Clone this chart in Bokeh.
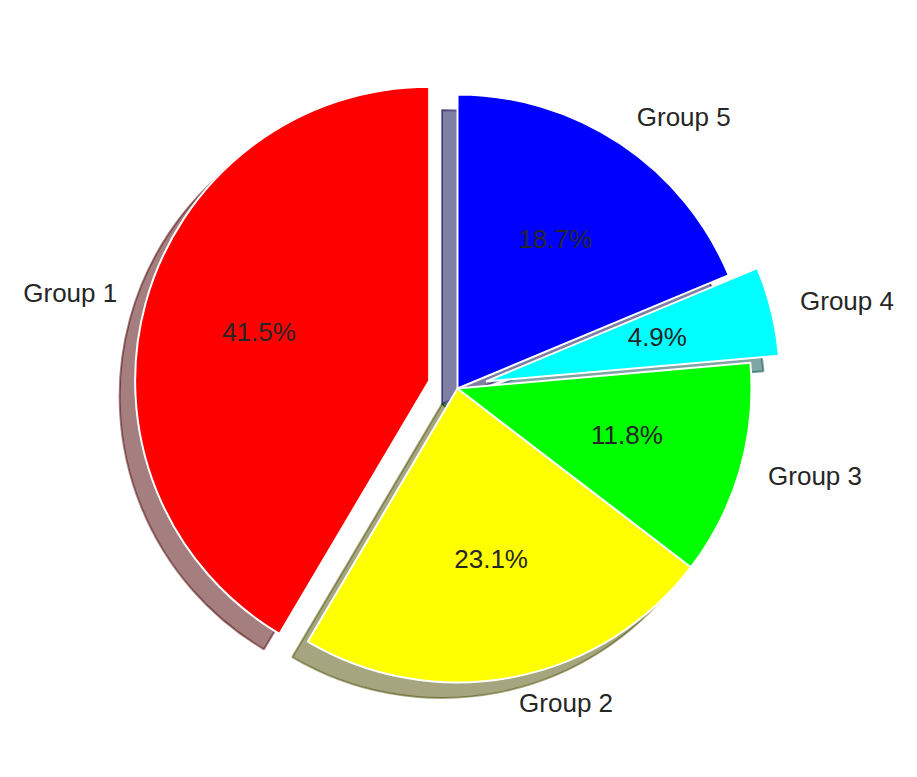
import numpy as np
from bokeh.plotting import figure
from bokeh.models import ColumnDataSource, Range1d
from bokeh.core.properties import value
from bokeh.embed import file_html
from bokeh.resources import INLINE

# ---- data ----
labels = ["Group 1", "Group 2", "Group 3", "Group 4", "Group 5"]
shares = [41.5, 23.1, 11.8, 4.9, 18.7]
colors = ["#ff0000", "#ffff00", "#00ff00", "#00ffff", "#0000ff"]
explode = [0.1, 0.0, 0.0, 0.1, 0.0]

# ---- layout / style ----
W, H = 901, 761
S = 294.0            # pixels per data unit (radius = 1)
CX, CY = 457.0, 388.0  # pie centre in canvas pixels (from top-left)
SHADOW = 15.5 / S
START = 90.0
LABEL_DIST = 1.1
PCT_DIST = 0.6
FONT = "Liberation Sans"
FSIZE = "26px"
TXT = "#262626"
TEXT_NUDGE = 2.5 / S   # matplotlib centres text slightly higher

vals = np.array(shares, dtype=float)
frac = vals / vals.sum()
ends = START + 360.0 * np.cumsum(frac)
starts = np.concatenate([[START], ends[:-1]])
mids = np.radians((starts + ends) / 2.0)
ex = np.array(explode)
cx = ex * np.cos(mids)
cy = ex * np.sin(mids)

def shade(c):
    r, g, b = int(c[1:3], 16), int(c[3:5], 16), int(c[5:7], 16)
    return "#%02x%02x%02x" % (int(r * 0.3), int(g * 0.3), int(b * 0.3))

src = ColumnDataSource(dict(
    x=cx, y=cy,
    sx=cx - SHADOW, sy=cy - SHADOW,
    start=np.radians(starts), end=np.radians(ends),
    color=colors, scolor=[shade(c) for c in colors],
))

p = figure(width=W, height=H, output_backend="svg", toolbar_location=None,
           x_range=Range1d(-CX / S, (W - CX) / S),
           y_range=Range1d(-(H - CY) / S, CY / S),
           min_border=0, min_border_left=0, min_border_right=0,
           min_border_top=0, min_border_bottom=0)
p.axis.visible = False
p.grid.visible = False
p.outline_line_color = None
p.background_fill_color = "white"
p.border_fill_color = "white"

# shadows (all beneath the wedges)
p.wedge(x="sx", y="sy", radius=1.0, start_angle="start", end_angle="end",
        fill_color="scolor", fill_alpha=0.5, line_color="scolor",
        line_alpha=0.5, line_width=2, source=src)
# wedges
p.wedge(x="x", y="y", radius=1.0, start_angle="start", end_angle="end",
        fill_color="color", line_color="white", line_width=2, source=src)

# labels
lx = cx + LABEL_DIST * np.cos(mids)
ly = cy + LABEL_DIST * np.sin(mids) + TEXT_NUDGE
align = ["left" if v > 0 else "right" for v in LABEL_DIST * np.cos(mids)]
lsrc = ColumnDataSource(dict(x=lx, y=ly, text=labels, align=align))
p.text(x="x", y="y", text="text", text_align="align", text_baseline="middle",
       text_font=value(FONT), text_font_size=FSIZE, text_color=TXT, source=lsrc)

# percentages
px = cx + PCT_DIST * np.cos(mids)
py = cy + PCT_DIST * np.sin(mids) + TEXT_NUDGE
ptxt = ["%.1f%%" % v for v in (frac * 100)]
psrc = ColumnDataSource(dict(x=px, y=py, text=ptxt))
p.text(x="x", y="y", text="text", text_align="center", text_baseline="middle",
       text_font=value(FONT), text_font_size=FSIZE, text_color=TXT, source=psrc)

open("out.html", "w").write(file_html(p, INLINE))
